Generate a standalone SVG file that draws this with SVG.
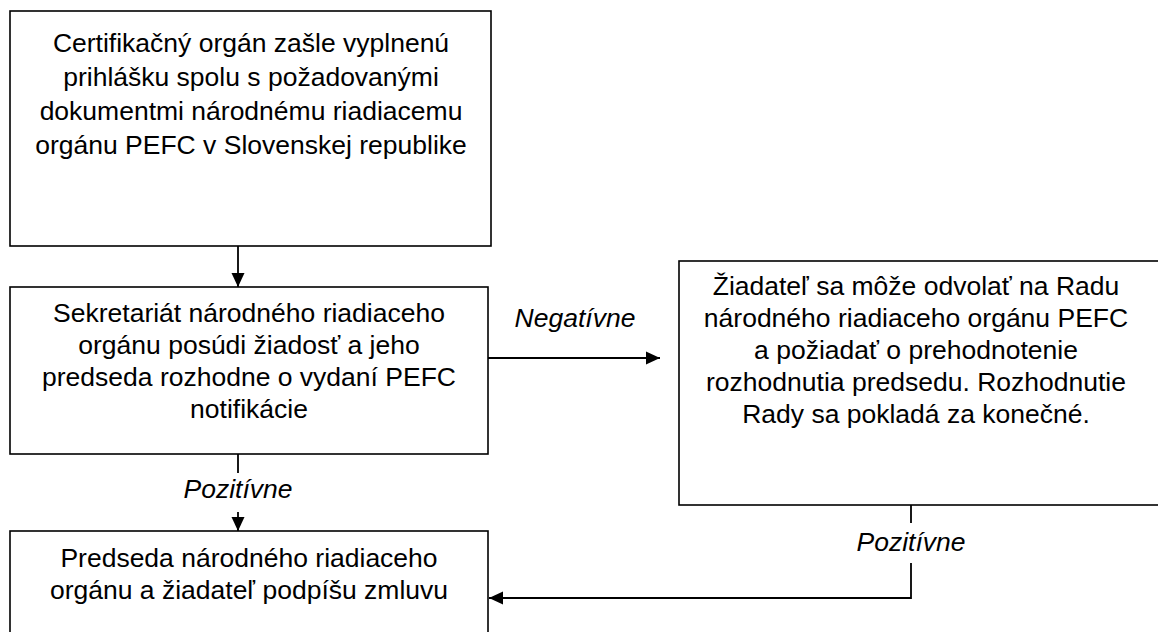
<svg xmlns="http://www.w3.org/2000/svg" width="1158" height="632" viewBox="0 0 1158 632">
<style>
.box{fill:#fff;stroke:#000;stroke-width:1.6}
.t{font-family:"Liberation Sans",Arial,sans-serif;font-size:26.5px;fill:#000;text-anchor:middle}
.lbl{font-family:"Liberation Sans",Arial,sans-serif;font-size:26.5px;font-style:italic;fill:#000;text-anchor:middle}
.c{fill:none;stroke:#000;stroke-width:1.8}
</style>
<defs>
<marker id="ah" markerUnits="userSpaceOnUse" markerWidth="16" markerHeight="16" refX="14" refY="7" orient="auto">
<path d="M0,0.5 L14,7 L0,13.5 Z" fill="#000"/>
</marker>
</defs>
<rect width="1158" height="632" fill="#fff"/>
<g id="node-certifikacny">
<rect class="box" x="10" y="11" width="481" height="235"/>
<text class="t" x="251" y="52">Certifikačný orgán zašle vyplnenú</text>
<text class="t" x="251" y="86">prihlášku spolu s požadovanými</text>
<text class="t" x="251" y="120">dokumentmi národnému riadiacemu</text>
<text class="t" x="251" y="154">orgánu PEFC v Slovenskej republike</text>
</g>
<g id="node-sekretariat">
<rect class="box" x="10" y="287" width="478" height="167"/>
<text class="t" x="249" y="322">Sekretariát národného riadiaceho</text>
<text class="t" x="249" y="354">orgánu posúdi žiadosť a jeho</text>
<text class="t" x="249" y="386">predseda rozhodne o vydaní PEFC</text>
<text class="t" x="249" y="418">notifikácie</text>
</g>
<g id="node-odvolanie">
<rect class="box" x="679" y="261" width="490" height="244"/>
<text class="t" x="916" y="295">Žiadateľ sa môže odvolať na Radu</text>
<text class="t" x="916" y="327">národného riadiaceho orgánu PEFC</text>
<text class="t" x="916" y="359">a požiadať o prehodnotenie</text>
<text class="t" x="916" y="391">rozhodnutia predsedu. Rozhodnutie</text>
<text class="t" x="916" y="423">Rady sa pokladá za konečné.</text>
</g>
<g id="node-zmluva">
<rect class="box" x="10" y="531" width="478" height="120"/>
<text class="t" x="249" y="567">Predseda národného riadiaceho</text>
<text class="t" x="249" y="599">orgánu a žiadateľ podpíšu zmluvu</text>
</g>
<g id="connectors">
<line class="c" x1="238" y1="246" x2="238" y2="287" marker-end="url(#ah)"/>
<line class="c" x1="488" y1="358" x2="660" y2="358" marker-end="url(#ah)"/>
<line class="c" x1="238" y1="454" x2="238" y2="473"/>
<line class="c" x1="238" y1="512" x2="238" y2="531" marker-end="url(#ah)"/>
<polyline class="c" points="911,505 911,523"/>
<polyline class="c" points="911,563 911,598 489,598" marker-end="url(#ah)"/>
<text class="lbl" x="575" y="327">Negatívne</text>
<text class="lbl" x="238" y="498">Pozitívne</text>
<text class="lbl" x="911" y="551">Pozitívne</text>
</g>
</svg>
